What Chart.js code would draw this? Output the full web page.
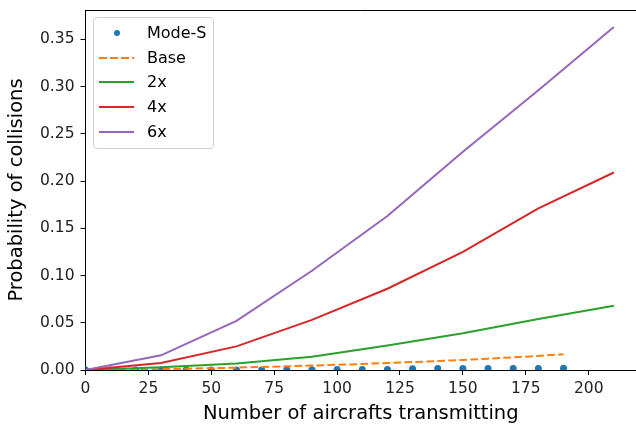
<!DOCTYPE html>
<html>
<head>
<meta charset="utf-8">
<script src="https://cdn.jsdelivr.net/npm/chart.js@4/dist/chart.umd.min.js"></script>
<style>
  html, body { margin: 0; padding: 0; background: #fff; overflow: hidden; }
  #wrap { position: relative; width: 636px; height: 426px; }
  #legend {
    position: absolute; left: 93px; top: 17px; width: 119px; height: 127px;
    border: 1px solid #d0d0d0; border-radius: 4px; background: rgba(255,255,255,0.8);
    font-family: "DejaVu Sans", sans-serif; font-size: 16px; color: #000;
    padding-top: 3px; box-sizing: content-box;
  }
  .row { position: relative; height: 24.7px; }
  .sw { position: absolute; left: 5px; top: 11px; width: 35px; height: 2px; }
  .dot { position: absolute; left: 20px; top: 9px; width: 6px; height: 6px; border-radius: 50%; }
  .lbl { position: absolute; left: 53px; top: 2px; line-height: 20px; }
</style>
</head>
<body>
<div id="wrap">
  <canvas id="chart" width="636" height="426"></canvas>
  <div id="legend"></div>
</div>
<script>
// Mode-S measurements, every 10 aircraft
const modeSX = [0, 10, 20, 30, 40, 50, 60, 70, 80, 90, 100, 110, 120, 130, 140, 150, 160, 170, 180, 190];
const modeSY = [0, 0, 0, 0, 0, 0, 0.0001, 0.0001, 0.0002, 0.0003, 0.0004, 0.0005, 0.0006, 0.0014, 0.0015, 0.0016, 0.0016, 0.0017, 0.0017, 0.0018];

// Base model, same x as Mode-S
const baseY = [0, 0.0002, 0.0005, 0.0009, 0.0014, 0.0019, 0.0025, 0.0032, 0.0039, 0.0047, 0.0055, 0.0064, 0.0074, 0.0084, 0.0095, 0.0107, 0.0120, 0.0134, 0.0149, 0.0166];

// scaled traffic, every 30 aircraft
const scaledX = [0, 30, 60, 90, 120, 150, 180, 210];
const y2x = [0, 0.003, 0.007, 0.014, 0.026, 0.039, 0.054, 0.068];
const y4x = [0, 0.0075, 0.025, 0.053, 0.086, 0.125, 0.171, 0.209];
const y6x = [0, 0.0155, 0.052, 0.105, 0.163, 0.231, 0.296, 0.363];

const xTicks = [0, 25, 50, 75, 100, 125, 150, 175, 200];
const yTicks = [0, 0.05, 0.10, 0.15, 0.20, 0.25, 0.30, 0.35];

const pts = (xs, ys) => xs.map((x, i) => ({ x: x, y: ys[i] }));

const FONT = '"DejaVu Sans", sans-serif';

const datasets = [
  { label: 'Mode-S', data: pts(modeSX, modeSY), showLine: false, pointRadius: 3.5,
    pointBackgroundColor: '#1f77b4', pointBorderWidth: 0, borderColor: '#1f77b4', order: 4, kind: 'dot' },
  { label: 'Base', data: pts(modeSX, baseY), borderColor: '#ff7f0e', borderDash: [7.7, 3.3], order: 3, kind: 'dash' },
  { label: '2x', data: pts(scaledX, y2x), borderColor: '#2ca02c', order: 2 },
  { label: '4x', data: pts(scaledX, y4x), borderColor: '#d62728', order: 1 },
  { label: '6x', data: pts(scaledX, y6x), borderColor: '#9467bd', order: 0 },
];
datasets.forEach(d => {
  d.borderWidth = d.kind === 'dot' ? 0 : 2;
  if (d.kind !== 'dot') d.pointRadius = 0;
  d.fill = false;
  d.tension = 0;
  d.clip = 0;
});

// matplotlib draws a full box; Chart.js only the axis sides
const topSpine = {
  id: 'topSpine',
  afterDraw(chart) {
    const { ctx, chartArea } = chart;
    ctx.save();
    ctx.strokeStyle = '#000';
    ctx.lineWidth = 1;
    ctx.beginPath();
    ctx.moveTo(chartArea.left, chartArea.top + 0.5);
    ctx.lineTo(chartArea.right, chartArea.top + 0.5);
    ctx.stroke();
    ctx.restore();
  }
};

const chart = new Chart(document.getElementById('chart'), {
  type: 'line',
  data: { datasets: datasets },
  plugins: [topSpine],
  options: {
    responsive: false,
    animation: false,
    // the source figure is cropped on the right, so the plot runs to the edge
    layout: { autoPadding: false, padding: { top: 10, left: 0, right: 0, bottom: 0 } },
    plugins: { legend: { display: false }, tooltip: { enabled: false } },
    scales: {
      x: {
        type: 'linear',
        min: 0,
        max: 218.8,
        afterFit: s => { s.height = 56; s.paddingRight = 0; s.paddingLeft = 0; },
        afterBuildTicks: s => { s.ticks = xTicks.map(v => ({ value: v })); },
        ticks: { font: { family: FONT, size: 15.5 }, color: '#222', padding: 5, maxRotation: 0,
                 callback: v => String(v) },
        grid: { drawOnChartArea: false, drawTicks: true, tickLength: 5, tickColor: '#000', tickWidth: 1 },
        border: { color: '#000', width: 1 },
        title: { display: true, text: 'Number of aircrafts transmitting', font: { family: FONT, size: 19.5 },
                 color: '#000', padding: { top: 0, bottom: 0 } }
      },
      y: {
        type: 'linear',
        min: 0,
        max: 0.381,
        afterFit: s => { s.width = 85.5; s.paddingTop = 0; s.paddingBottom = 0; },
        afterBuildTicks: s => { s.ticks = yTicks.map(v => ({ value: v })); },
        ticks: { font: { family: FONT, size: 15.5 }, color: '#222', padding: 6,
                 callback: v => v.toFixed(2) },
        grid: { drawOnChartArea: false, drawTicks: true, tickLength: 5, tickColor: '#000', tickWidth: 1 },
        border: { color: '#000', width: 1 },
        title: { display: true, text: 'Probability of collisions', font: { family: FONT, size: 19.5 },
                 color: '#000', padding: { top: 5, bottom: 0 } }
      }
    }
  }
});

// legend box in the upper left, built from the datasets
const legendEl = document.getElementById('legend');
chart.data.datasets.forEach(d => {
  const row = document.createElement('div');
  row.className = 'row';
  if (d.kind === 'dot') {
    const dot = document.createElement('div');
    dot.className = 'dot';
    dot.style.background = d.pointBackgroundColor;
    row.appendChild(dot);
  } else {
    const sw = document.createElement('div');
    sw.className = 'sw';
    sw.style.background = d.kind === 'dash'
      ? 'repeating-linear-gradient(to right, ' + d.borderColor + ' 0 7.7px, transparent 7.7px 11px)'
      : d.borderColor;
    row.appendChild(sw);
  }
  const lbl = document.createElement('span');
  lbl.className = 'lbl';
  lbl.textContent = d.label;
  row.appendChild(lbl);
  legendEl.appendChild(row);
});
</script>
</body>
</html>
